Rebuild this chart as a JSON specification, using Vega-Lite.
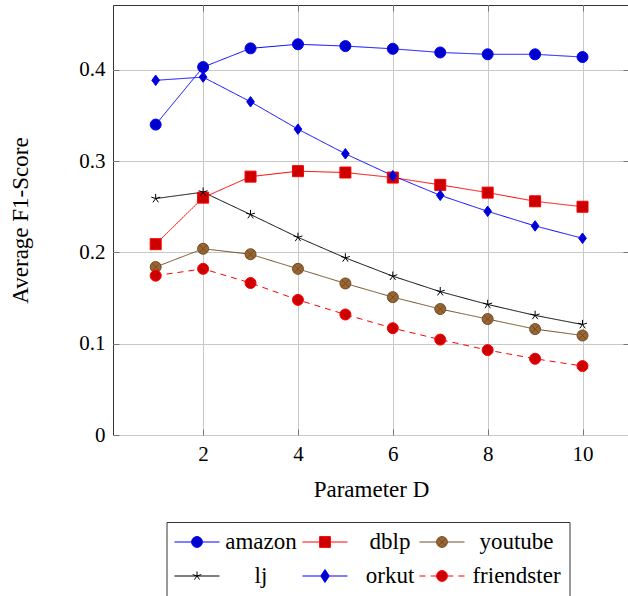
{
  "$schema": "https://vega.github.io/schema/vega-lite/v6.json",
  "autosize": {"type": "none"},
  "padding": {"left": 113, "top": 5, "right": 0, "bottom": 161},
  "width": 516,
  "height": 430,
  "config": {
    "font": "Liberation Serif",
    "view": {"stroke": "#333", "strokeWidth": 1}
  },
  "data": {
    "values": [
      {"series": "amazon", "D": 1, "f1": 0.340}, {"series": "amazon", "D": 2, "f1": 0.403}, {"series": "amazon", "D": 3, "f1": 0.4235}, {"series": "amazon", "D": 4, "f1": 0.428}, {"series": "amazon", "D": 5, "f1": 0.426}, {"series": "amazon", "D": 6, "f1": 0.423}, {"series": "amazon", "D": 7, "f1": 0.419}, {"series": "amazon", "D": 8, "f1": 0.417}, {"series": "amazon", "D": 9, "f1": 0.417}, {"series": "amazon", "D": 10, "f1": 0.414},
      {"series": "dblp", "D": 1, "f1": 0.209}, {"series": "dblp", "D": 2, "f1": 0.260}, {"series": "dblp", "D": 3, "f1": 0.283}, {"series": "dblp", "D": 4, "f1": 0.289}, {"series": "dblp", "D": 5, "f1": 0.2875}, {"series": "dblp", "D": 6, "f1": 0.282}, {"series": "dblp", "D": 7, "f1": 0.274}, {"series": "dblp", "D": 8, "f1": 0.2655}, {"series": "dblp", "D": 9, "f1": 0.256}, {"series": "dblp", "D": 10, "f1": 0.250},
      {"series": "youtube", "D": 1, "f1": 0.184}, {"series": "youtube", "D": 2, "f1": 0.204}, {"series": "youtube", "D": 3, "f1": 0.198}, {"series": "youtube", "D": 4, "f1": 0.182}, {"series": "youtube", "D": 5, "f1": 0.166}, {"series": "youtube", "D": 6, "f1": 0.151}, {"series": "youtube", "D": 7, "f1": 0.138}, {"series": "youtube", "D": 8, "f1": 0.127}, {"series": "youtube", "D": 9, "f1": 0.116}, {"series": "youtube", "D": 10, "f1": 0.109},
      {"series": "lj", "D": 1, "f1": 0.259}, {"series": "lj", "D": 2, "f1": 0.266}, {"series": "lj", "D": 3, "f1": 0.2415}, {"series": "lj", "D": 4, "f1": 0.2165}, {"series": "lj", "D": 5, "f1": 0.194}, {"series": "lj", "D": 6, "f1": 0.174}, {"series": "lj", "D": 7, "f1": 0.157}, {"series": "lj", "D": 8, "f1": 0.143}, {"series": "lj", "D": 9, "f1": 0.131}, {"series": "lj", "D": 10, "f1": 0.121},
      {"series": "orkut", "D": 1, "f1": 0.3885}, {"series": "orkut", "D": 2, "f1": 0.392}, {"series": "orkut", "D": 3, "f1": 0.365}, {"series": "orkut", "D": 4, "f1": 0.335}, {"series": "orkut", "D": 5, "f1": 0.308}, {"series": "orkut", "D": 6, "f1": 0.284}, {"series": "orkut", "D": 7, "f1": 0.2625}, {"series": "orkut", "D": 8, "f1": 0.245}, {"series": "orkut", "D": 9, "f1": 0.229}, {"series": "orkut", "D": 10, "f1": 0.2155},
      {"series": "friendster", "D": 1, "f1": 0.1745}, {"series": "friendster", "D": 2, "f1": 0.182}, {"series": "friendster", "D": 3, "f1": 0.1665}, {"series": "friendster", "D": 4, "f1": 0.148}, {"series": "friendster", "D": 5, "f1": 0.132}, {"series": "friendster", "D": 6, "f1": 0.117}, {"series": "friendster", "D": 7, "f1": 0.1045}, {"series": "friendster", "D": 8, "f1": 0.093}, {"series": "friendster", "D": 9, "f1": 0.0835}, {"series": "friendster", "D": 10, "f1": 0.0755}
    ]
  },
  "resolve": {"axis": {"x": "independent", "y": "independent"}, "scale": {"shape": "independent"}},
  "layer": [
    {
      "mark": {"type": "line", "strokeWidth": 1},
      "encoding": {
        "x": {
          "field": "D", "type": "quantitative",
          "scale": {"domain": [0.1, 10.98], "nice": false, "zero": false},
          "axis": {
            "values": [2, 4, 6, 8, 10], "format": "d", "title": "Parameter D",
            "grid": true, "gridColor": "#c8c8c8", "gridWidth": 1,
            "domain": false, "tickSize": -6, "tickColor": "#777",
            "labelPadding": 14, "labelFontSize": 21, "labelColor": "#000",
            "titleFontSize": 23, "titleFontWeight": "normal", "titleColor": "#000", "titlePadding": 14
          }
        },
        "y": {
          "field": "f1", "type": "quantitative",
          "scale": {"domain": [0, 0.471], "nice": false},
          "axis": {
            "values": [0, 0.1, 0.2, 0.3, 0.4], "format": ".1~f", "title": "Average F1-Score",
            "grid": true, "gridColor": "#c8c8c8", "gridWidth": 1,
            "domain": false, "tickSize": -6, "tickColor": "#777",
            "labelPadding": 14, "labelFontSize": 21, "labelColor": "#000",
            "titleFontSize": 23, "titleFontWeight": "normal", "titleColor": "#000", "titlePadding": 46
          }
        },
        "detail": {"field": "series"},
        "stroke": {
          "field": "series", "type": "nominal", "legend": null,
          "scale": {"domain": ["amazon", "orkut", "dblp", "friendster", "youtube", "lj"], "range": ["#0000ff", "#0000ff", "#ff0000", "#ff0000", "#734d26", "#000000"]}
        },
        "strokeDash": {
          "field": "series", "type": "nominal", "legend": null,
          "scale": {"domain": ["friendster", "amazon", "orkut", "dblp", "youtube", "lj"], "range": [[6, 5], [1, 0], [1, 0], [1, 0], [1, 0], [1, 0]]}
        }
      }
    },
    {
      "mark": {"type": "point", "opacity": 1, "strokeWidth": 1, "size": 121, "filled": true},
      "encoding": {
        "x": {
          "field": "D", "type": "quantitative",
          "axis": {"orient": "top", "values": [2, 4, 6, 8, 10], "labels": false, "grid": false, "domain": false, "tickSize": -6, "tickColor": "#777", "title": null}
        },
        "y": {
          "field": "f1", "type": "quantitative",
          "axis": {"orient": "right", "values": [0.1, 0.2, 0.3, 0.4], "labels": false, "grid": false, "domain": false, "tickSize": -6, "tickColor": "#777", "title": null}
        },
        "stroke": {"field": "series", "type": "nominal", "legend": null},
        "fill": {
          "field": "series", "type": "nominal", "legend": null,
          "scale": {"domain": ["lj", "amazon", "orkut", "dblp", "friendster", "youtube"], "range": ["transparent", "#0000cc", "#0000cc", "#cc0000", "#cc0000", "#996633"]}
        },
        "shape": {
          "field": "series", "type": "nominal", "legend": null,
          "scale": {
            "domain": ["amazon", "dblp", "youtube", "lj", "orkut", "friendster"],
            "range": [
              "circle",
              "square",
              "M1,0A1,1,0,1,1,-1,0A1,1,0,1,1,1,0ZM-0.7,-0.7L0.7,0.7M-0.7,0.7L0.7,-0.7",
              "M0,0L0,-0.85M0,0L0.81,-0.26M0,0L0.5,0.69M0,0L-0.5,0.69M0,0L-0.81,-0.26",
              "M0,-0.95L0.7,0L0,0.95L-0.7,0Z",
              "circle"
            ]
          }
        }
      }
    },
    {
      "transform": [{"filter": "false"}],
      "mark": {"type": "point", "opacity": 1, "strokeWidth": 1, "filled": true},
      "encoding": {
        "shape": {
          "field": "series", "type": "nominal",
          "scale": {
            "domain": ["amazon", "dblp", "youtube", "lj", "orkut", "friendster"],
            "range": [
              "M-1.957,0H-0.47M0.47,0H1.957M0.47,0A0.47,0.47,0,1,1,-0.47,0A0.47,0.47,0,1,1,0.47,0Z",
              "M-1.957,0H-0.47M0.47,0H1.957M-0.47,-0.47H0.47V0.47H-0.47Z",
              "M-1.957,0H-0.47M0.47,0H1.957M0.47,0A0.47,0.47,0,1,1,-0.47,0A0.47,0.47,0,1,1,0.47,0ZM-0.333,-0.333L0.333,0.333M-0.333,0.333L0.333,-0.333",
              "M-1.957,0H1.957M0,0L0,-0.391M0,0L0.372,-0.121M0,0L0.231,0.317M0,0L-0.231,0.317M0,0L-0.372,-0.121",
              "M-1.957,0H-0.372M0.372,0H1.957M0,-0.567L0.372,0L0,0.567L-0.372,0Z",
              "M-1.957,0H-1.428M-0.978,0H-0.47M0.47,0H0.978M1.428,0H1.957M0.47,0A0.47,0.47,0,1,1,-0.47,0A0.47,0.47,0,1,1,0.47,0Z"
            ]
          },
          "legend": {
            "orient": "none", "legendX": 53.5, "legendY": 517, "columns": 3, "direction": "horizontal", "title": null,
            "symbolSize": 529, "symbolStrokeWidth": 1, "symbolOffset": 10.5,
            "labelFont": "Liberation Serif", "labelFontSize": 23, "labelColor": "#000",
            "labelAlign": "center", "labelOffset": 0, "labelLimit": 300,
            "columnPadding": 2, "rowPadding": 10, "padding": 8,
            "strokeColor": "#333", "fillColor": "#ffffff", "cornerRadius": 0,
            "encoding": {
              "symbols": {
                "fill": {"value": {"expr": "({'amazon':'#0000cc','dblp':'#cc0000','youtube':'#996633','lj':'transparent','orkut':'#0000cc','friendster':'#cc0000'})[datum.value]"}},
                "stroke": {"value": {"expr": "({'amazon':'#0000ff','dblp':'#ff0000','youtube':'#734d26','lj':'#000000','orkut':'#0000ff','friendster':'#ff0000'})[datum.value]"}},
                "fillOpacity": {"value": 1},
                "opacity": {"value": 1}
              },
              "labels": {
                "dx": {"value": {"expr": "datum.index % 3 == 0 ? 52 : (datum.index % 3 == 1 ? 53 : 62.5)"}}
              }
            }
          }
        }
      }
    }
  ]
}
